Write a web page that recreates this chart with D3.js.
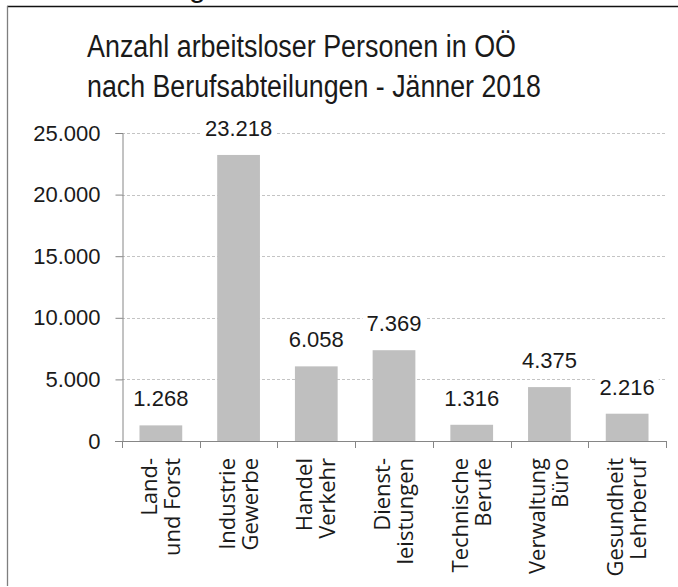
<!DOCTYPE html>
<html>
<head>
<meta charset="utf-8">
<script src="https://cdn.jsdelivr.net/npm/d3@7"></script>
<style>
  body { margin: 0; background: #fff; }
  svg { display: block; }
</style>
</head>
<body>
<svg id="chart" width="678" height="587"></svg>
<script>
// chart data
const categories = [
    ["Land-", "und Forst"],
    ["Industrie", "Gewerbe"],
    ["Handel", "Verkehr"],
    ["Dienst-", "leistungen"],
    ["Technische", "Berufe"],
    ["Verwaltung", "Büro"],
    ["Gesundheit", "Lehrberuf"]
];
const values = [1268, 23218, 6058, 7369, 1316, 4375, 2216];
const yTicks = [0, 5000, 10000, 15000, 20000, 25000];
const titleLines = [
    "Anzahl arbeitsloser Personen in OÖ",
    "nach Berufsabteilungen - Jänner 2018"
];

const svg = d3.select("#chart");
const numFont = "'Liberation Sans', Arial, sans-serif";
const titleFont = "'Liberation Sans Narrow', 'Liberation Sans', Arial, sans-serif";
const catFont = "'Open Sans', 'DejaVu Sans', sans-serif";

// de-DE style thousands separator
const fmt = function (v) {
    return d3.format(",")(v).replace(/,/g, ".");
};

const plot = { left: 122, right: 666, top: 133, bottom: 441 };

const X = d3.scaleBand()
    .domain(d3.range(categories.length))
    .range([plot.left, plot.right])
    .paddingInner(0.45)
    .paddingOuter(0.225);

const Xfull = d3.scaleBand()
    .domain(d3.range(categories.length))
    .range([plot.left, plot.right]);

const Y = d3.scaleLinear()
    .domain([0, 25000])
    .range([plot.bottom, plot.top]);

// frame pieces of the surrounding box
svg.append("line")
    .attr("x1", 7).attr("x2", 678)
    .attr("y1", 6.5).attr("y2", 6.5)
    .style("stroke", "#111")
    .style("stroke-width", 1.6);
svg.append("line")
    .attr("x1", 7.5).attr("x2", 7.5)
    .attr("y1", 6).attr("y2", 586)
    .style("stroke", "#7f7f7f")
    .style("stroke-width", 1.3);
// descender of a heading above, cut off by the page
svg.append("text")
    .attr("x", 189).attr("y", -3)
    .style("font-family", numFont)
    .style("font-size", "30px")
    .style("fill", "#111")
    .text("g");

// title, fitted to the width it has in the original
const titleWidths = [429, 454];
svg.selectAll("text.title")
    .data(titleLines)
    .enter()
    .append("text")
    .attr("class", "title")
    .attr("x", 87)
    .attr("y", function (d, i) { return 57 + i * 40; })
    .attr("textLength", function (d, i) { return titleWidths[i]; })
    .attr("lengthAdjust", "spacingAndGlyphs")
    .style("font-family", titleFont)
    .style("font-size", "31px")
    .style("fill", "#1a1a1a")
    .text(function (d) { return d; });

// gridlines
svg.append("g")
    .selectAll("line")
    .data(yTicks.filter(function (t) { return t > 0; }))
    .enter()
    .append("line")
    .attr("x1", plot.left)
    .attr("x2", plot.right)
    .attr("y1", function (d) { return Math.round(Y(d)) + 0.5; })
    .attr("y2", function (d) { return Math.round(Y(d)) + 0.5; })
    .style("stroke", "#c4c4c4")
    .style("stroke-width", 1)
    .style("stroke-dasharray", "3,2");

// bars
svg.append("g")
    .selectAll("rect")
    .data(values)
    .enter()
    .append("rect")
    .attr("x", function (d, i) { return X(i); })
    .attr("width", X.bandwidth())
    .attr("y", function (d) { return Y(d); })
    .attr("height", function (d) { return Y(0) - Y(d); })
    .style("fill", "#bfbfbf");

// value labels on a white patch so the gridlines break behind them
const labels = svg.append("g")
    .selectAll("g")
    .data(values)
    .enter()
    .append("g")
    .attr("transform", function (d, i) {
        return `translate(${X(i) + X.bandwidth() / 2},${Y(d) - 19})`;
    });
const patches = labels.append("rect").style("fill", "#fff");
labels.append("text")
    .attr("text-anchor", "middle")
    .style("font-family", numFont)
    .style("font-size", "22px")
    .style("fill", "#1a1a1a")
    .text(fmt);
labels.each(function () {
    const g = d3.select(this);
    const bb = g.select("text").node().getBBox();
    g.select("rect")
        .attr("x", bb.x - 4).attr("y", bb.y)
        .attr("width", bb.width + 8).attr("height", bb.height);
});

// y axis (drawn after the patches so it stays whole)
const yAxis = svg.append("g")
    .attr("transform", `translate(${plot.left + 0.5},0)`)
    .call(d3.axisLeft(Y).tickValues(yTicks).tickSize(7).tickPadding(15).tickFormat(fmt));
yAxis.select(".domain").style("stroke", "#868686");
yAxis.selectAll(".tick line").style("stroke", "#868686");
yAxis.selectAll(".tick text")
    .style("font-family", numFont)
    .style("font-size", "22px")
    .style("fill", "#1a1a1a");

// x axis with boundary ticks
const xAxis = svg.append("g");
xAxis.append("line")
    .attr("x1", plot.left - 7).attr("x2", plot.right)
    .attr("y1", plot.bottom + 0.5).attr("y2", plot.bottom + 0.5)
    .style("stroke", "#868686");
xAxis.selectAll("line.tick")
    .data(d3.range(categories.length + 1))
    .enter()
    .append("line")
    .attr("class", "tick")
    .attr("x1", function (i) { return Math.round(plot.left + i * Xfull.bandwidth()) + 0.5; })
    .attr("x2", function (i) { return Math.round(plot.left + i * Xfull.bandwidth()) + 0.5; })
    .attr("y1", plot.bottom)
    .attr("y2", plot.bottom + 7)
    .style("stroke", "#868686");

// rotated category labels, two lines each
const catG = svg.append("g")
    .selectAll("g")
    .data(categories)
    .enter()
    .append("g")
    .attr("transform", function (d, i) {
        return `translate(${Xfull(i) + Xfull.bandwidth() / 2},${plot.bottom + 17}) rotate(-90)`;
    });
catG.selectAll("text")
    .data(function (d) { return d; })
    .enter()
    .append("text")
    .attr("x", 0)
    .attr("y", function (d, i) { return -4 + i * 23; })
    .attr("text-anchor", "end")
    .style("font-family", catFont)
    .style("font-size", "22px")
    .style("fill", "#1a1a1a")
    .text(function (d) { return d; });
</script>
</body>
</html>
